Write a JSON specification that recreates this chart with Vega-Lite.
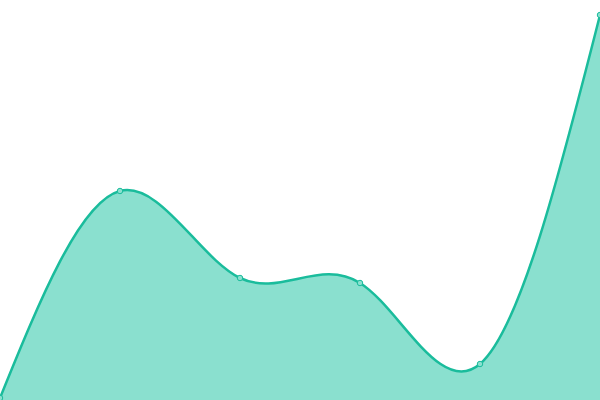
{
  "$schema": "https://vega.github.io/schema/vega-lite/v6.json",
  "autosize": {"type": "none"},
  "width": 600,
  "height": 400,
  "padding": 0,
  "background": "white",
  "data": {
    "values": [
      {"i": 0, "v": 2},
      {"i": 1, "v": 209},
      {"i": 2, "v": 122},
      {"i": 3, "v": 117},
      {"i": 4, "v": 36},
      {"i": 5, "v": 385}
    ]
  },
  "encoding": {
    "x": {"field": "i", "type": "quantitative", "axis": null, "scale": {"domain": [0, 5], "nice": false, "zero": false}},
    "y": {"field": "v", "type": "quantitative", "axis": null, "scale": {"domain": [0, 400], "nice": false}}
  },
  "layer": [
    {
      "mark": {"type": "area", "interpolate": "natural", "color": "#8ae0cf", "opacity": 1}
    },
    {
      "mark": {"type": "line", "interpolate": "natural", "color": "#1abc9c", "strokeWidth": 2.5}
    },
    {
      "mark": {"type": "point", "filled": true, "fill": "#8ae0cf", "stroke": "#1abc9c", "strokeWidth": 1, "size": 30, "opacity": 1}
    }
  ],
  "config": {"view": {"stroke": null}}
}
